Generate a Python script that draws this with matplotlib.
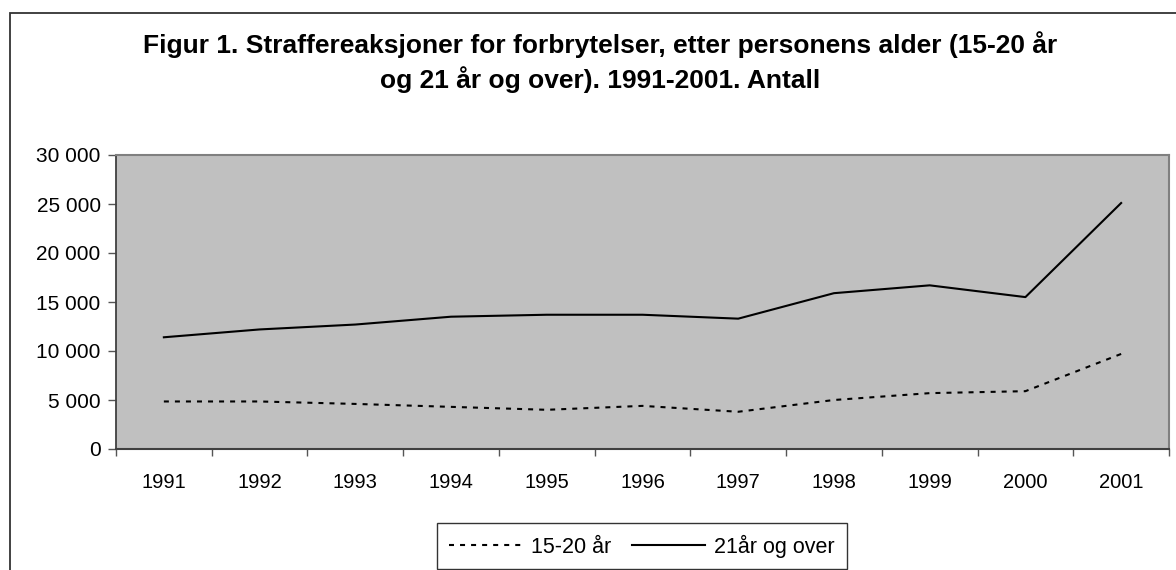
import numpy as np
import matplotlib.pyplot as plt
from matplotlib.patches import Rectangle
from matplotlib.ticker import FuncFormatter

# data
years = ['1991', '1992', '1993', '1994', '1995', '1996', '1997', '1998', '1999', '2000', '2001']
age_15_20 = [4850, 4850, 4600, 4300, 4000, 4400, 3800, 5000, 5700, 5900, 9700]
age_21_over = [11400, 12200, 12700, 13500, 13700, 13700, 13300, 15900, 16700, 15500, 25100]
series_labels = ['15-20 år', '21år og over']
title = 'Figur 1. Straffereaksjoner for forbrytelser, etter personens alder (15-20 år\nog 21 år og over). 1991-2001. Antall'

plt.rcParams['font.family'] = ['Liberation Sans', 'DejaVu Sans']

fig = plt.figure(figsize=(11.76, 5.70), dpi=100)
W, H = 1176, 570

# outer chart border (runs off the right and bottom edge)
fig.patches.append(Rectangle((10 / W, -0.1), 1.2, 1 - 13 / H + 0.1, transform=fig.transFigure,
                             fill=False, edgecolor='#333333', linewidth=1.3))

ax = fig.add_axes([116 / W, 1 - 449 / H, (1169 - 116) / W, (449 - 155) / H])
ax.set_facecolor('#c0c0c0')

x = np.arange(len(years))
ax.plot(x, age_15_20, color='black', linewidth=1.5, linestyle=(0, (2.4, 2.9)), label=series_labels[0])
ax.plot(x, age_21_over, color='black', linewidth=1.5, linestyle='-', label=series_labels[1])

ax.set_xlim(-0.5, len(years) - 0.5)
ax.set_ylim(0, 30000)
ax.set_yticks(np.arange(0, 30001, 5000))
ax.yaxis.set_major_formatter(FuncFormatter(lambda v, p: f'{int(v):,}'.replace(',', ' ')))

# ticks between categories, labels in the middle
ax.set_xticks(np.arange(-0.5, len(years), 1))
ax.set_xticklabels([])
ax.set_xticks(x, minor=True)
ax.set_xticklabels(years, minor=True)
ax.tick_params(axis='x', which='major', direction='out', length=5, color='#555555', width=1)
ax.tick_params(axis='x', which='minor', length=0, pad=17, labelsize=14.5)
ax.tick_params(axis='y', direction='out', length=6, color='#555555', width=1, pad=5, labelsize=15)

for side in ['top', 'right']:
    ax.spines[side].set_color('#808080')
    ax.spines[side].set_linewidth(1.5)
ax.spines['left'].set_color('#404040')
ax.spines['left'].set_linewidth(1.3)
ax.spines['bottom'].set_color('#404040')
ax.spines['bottom'].set_linewidth(1.5)

fig.text(0.51, 1 - 62 / H, title, ha='center', va='center', fontsize=19, fontweight='bold',
         linespacing=1.35)

leg = fig.legend(loc='center', bbox_to_anchor=(642 / W, 1 - 546 / H), ncol=2, fontsize=15.5,
                 frameon=True, fancybox=False, edgecolor='black', handlelength=3.4,
                 handletextpad=0.42, columnspacing=0.95, borderpad=0.55, borderaxespad=0)
leg.get_frame().set_linewidth(1.0)

plt.savefig('out.png', dpi=100)
